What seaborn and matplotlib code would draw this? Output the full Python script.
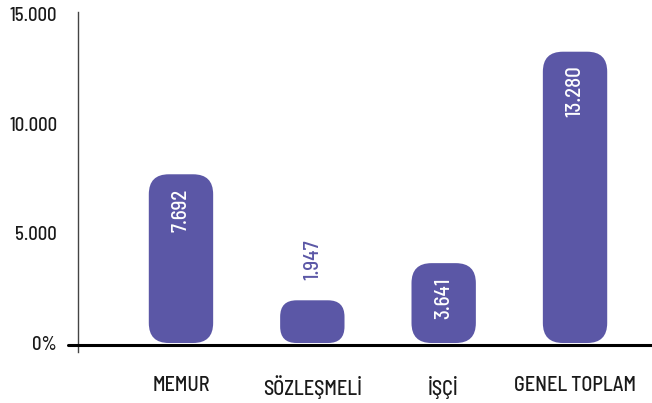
import seaborn as sns
import matplotlib.pyplot as plt
import pandas as pd
from matplotlib.patches import FancyBboxPatch

categories = ['MEMUR', 'SÖZLEŞMELİ', 'İŞÇİ', 'GENEL TOPLAM']
values = [7692, 1947, 3641, 13280]
value_labels = ['7.692', '1.947', '3.641', '13.280']
tick_values = [0, 5000, 10000, 15000]
tick_labels = ['0%', '5.000', '10.000', '15.000']

bar_color = '#5B57A6'

sns.set_style('white')
plt.rcParams['font.family'] = ['Barlow Semi Condensed', 'Roboto Condensed', 'DejaVu Sans']
plt.rcParams['font.weight'] = 'medium'

df = pd.DataFrame({'kategori': categories, 'deger': values})

fig = plt.figure(figsize=(6.52, 4.03), dpi=100)
ax = fig.add_axes([78 / 652, (403 - 352) / 403, 574 / 652, 340 / 403])
sns.barplot(data=df, x='kategori', y='deger', color=bar_color, width=0.49,
            saturation=1, ax=ax)

ax.set_xlim(-0.784, 3.586)
ax.set_ylim(-410, 15090)

# rounded bars instead of plain rectangles
x_per_px = 4.37 / 574
y_per_px = 15500 / 340
for p in list(ax.patches):
    x, y = p.get_x(), p.get_y()
    w, h = p.get_width(), p.get_height()
    p.remove()
    r = min(20 * x_per_px, h / y_per_px * x_per_px / 2.6)
    box = FancyBboxPatch((x, y), w, h,
                         boxstyle=f'round,pad=0,rounding_size={r}',
                         mutation_aspect=y_per_px / x_per_px,
                         facecolor=bar_color, edgecolor='none')
    ax.add_patch(box)

for i, (v, lab) in enumerate(zip(values, value_labels)):
    if v > 3000:
        ax.text(i, v - 14 * y_per_px, lab, rotation=90, ha='center', va='top',
                color='white', fontsize=15)
    else:
        ax.text(i, v + 20 * y_per_px, lab, rotation=90, ha='center', va='bottom',
                color=bar_color, fontsize=15)

ax.set_yticks(tick_values)
ax.set_yticklabels(tick_labels)
ax.tick_params(axis='y', length=0, pad=15, labelsize=13.5, labelcolor='#1a1a1a')
ax.tick_params(axis='x', length=0, pad=17, labelsize=14.5, labelcolor='#1a1a1a')
ax.set_xlabel('')
ax.set_ylabel('')

for s in ['top', 'right', 'bottom']:
    ax.spines[s].set_visible(False)
ax.spines['left'].set_color('#444444')
ax.spines['left'].set_linewidth(1)

ax.axhline(-90, xmin=-0.017, xmax=1, color='black', linewidth=2.2, clip_on=False,
           zorder=3)

plt.savefig('out.png', dpi=100)
